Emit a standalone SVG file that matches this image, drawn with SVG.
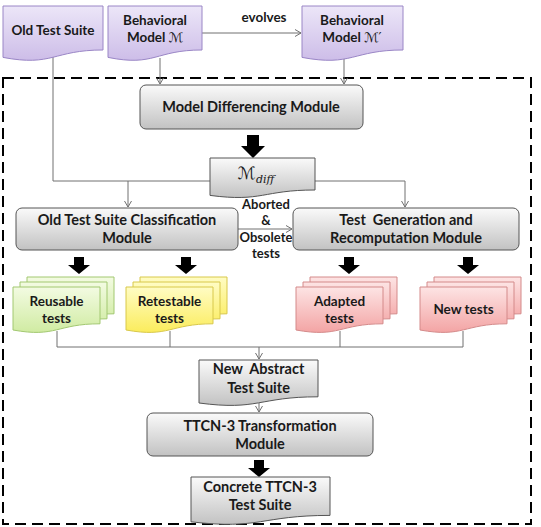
<svg xmlns="http://www.w3.org/2000/svg" width="541" height="527" viewBox="0 0 541 527">
<defs>
<linearGradient id="gPurple" x1="0" y1="0" x2="0" y2="1"><stop offset="0" stop-color="#ece6f8"/><stop offset="1" stop-color="#cdbde8"/></linearGradient>
<linearGradient id="gGray" x1="0" y1="0" x2="0" y2="1"><stop offset="0" stop-color="#fafafa"/><stop offset="1" stop-color="#c2c2c2"/></linearGradient>
<linearGradient id="gGreen" x1="0" y1="0" x2="0" y2="1"><stop offset="0" stop-color="#f3fbe2"/><stop offset="1" stop-color="#d0eba2"/></linearGradient>
<linearGradient id="gYellow" x1="0" y1="0" x2="0" y2="1"><stop offset="0" stop-color="#fffcc4"/><stop offset="1" stop-color="#fbec5c"/></linearGradient>
<linearGradient id="gPink" x1="0" y1="0" x2="0" y2="1"><stop offset="0" stop-color="#fde4e4"/><stop offset="1" stop-color="#f3a4a4"/></linearGradient>
<path id="stk" d="M0,0 H87 V36.8 C43.5,36.8 43.5,50.9 0,43 Z"/>
<marker id="arr" markerWidth="8" markerHeight="8" refX="6" refY="4" orient="auto" markerUnits="userSpaceOnUse">
<path d="M0,0.5 L6,4 L0,7.5" fill="none" stroke="#707070" stroke-width="1"/>
</marker>
</defs>
<style>
text{font-family:Lato,"Liberation Sans",sans-serif;font-weight:bold;fill:#1a1a1a;text-anchor:middle}
.t13{font-size:13.5px}
.t14{font-size:14.5px}
.purple{fill:url(#gPurple);stroke:#9a86c6;stroke-width:1}
.gray{fill:url(#gGray);stroke:#555;stroke-width:1}
.green{fill:url(#gGreen);stroke:#a2c870;stroke-width:1}
.yellow{fill:url(#gYellow);stroke:#d8c84a;stroke-width:1}
.pink{fill:url(#gPink);stroke:#d48a8a;stroke-width:1}
.conn{fill:none;stroke:#707070;stroke-width:1}
.big{fill:#000}
.math{font-family:"DejaVu Sans",serif;font-weight:normal;font-style:normal}
</style>

<rect x="3" y="78" width="528" height="446" fill="none" stroke="#000" stroke-width="2" stroke-dasharray="11,6"/>

<g id="connectors">
<path class="conn" d="M53,57 V181 H210"/>
<path class="conn" d="M128,181 V207" marker-end="url(#arr)"/>
<path class="conn" d="M315,181 H405 V207" marker-end="url(#arr)"/>
<path class="conn" d="M202,33 H301" marker-end="url(#arr)"/>
<path class="conn" d="M160,58 V84" marker-end="url(#arr)"/>
<path class="conn" d="M344,58 V84" marker-end="url(#arr)"/>
<path class="conn" d="M238,229 H292" marker-end="url(#arr)"/>
<path class="conn" d="M57,331 V347 H463 V331 M170,331 V347 M340,331 V347"/>
<path class="conn" d="M259,347 V359" marker-end="url(#arr)"/>
<path class="conn" d="M259,403 V412" marker-end="url(#arr)"/>
<path class="big" d="M247,135 H259 V146 H265 L253,158 L241,146 H247 Z"/>
<path class="big" d="M74,257 H84 V265 H90 L79,274 L68,265 H74 Z"/>
<path class="big" d="M181,257 H191 V265 H197 L186,274 L175,265 H181 Z"/>
<path class="big" d="M344,257 H354 V265 H360 L349,274 L338,265 H344 Z"/>
<path class="big" d="M463,257 H473 V265 H479 L468,274 L457,265 H463 Z"/>
<path class="big" d="M254,460 H264 V468 H270 L259,477 L248,468 H254 Z"/>
</g>

<g id="oldTestSuite">
<path class="purple" d="M3,6 H103 V50 C53,50 53,66.9 3,57.4 Z"/>
<text class="t13" x="53" y="35">Old Test Suite</text>
</g>
<g id="modelM">
<path class="purple" d="M108,6 H202 V50 C155,50 155,66.9 108,57.4 Z"/>
<text class="t13" x="155" y="25">Behavioral</text>
<text class="t13" x="155" y="42">Model  <tspan class="math">ℳ</tspan></text>
</g>
<text class="t13" x="264" y="22">evolves</text>
<g id="modelM2">
<path class="purple" d="M302,6 H403 V50 C352.5,50 352.5,66.9 302,57.4 Z"/>
<text class="t13" x="352" y="25">Behavioral</text>
<text class="t13" x="352" y="42">Model  <tspan class="math">ℳ′</tspan></text>
</g>

<g id="modelDiff">
<rect class="gray" x="140" y="85" width="223" height="44" rx="6"/>
<text class="t14" x="251" y="112">Model Differencing Module</text>
</g>

<g id="mdiff">
<path class="gray" d="M210,158 H315 V190 C262.5,190 262.5,202.3 210,195.4 Z"/>
<text x="256" y="179"><tspan class="math" font-size="17">ℳ</tspan><tspan font-family="'DejaVu Serif',serif" font-weight="normal" font-style="italic" font-size="11" dy="4">diff</tspan></text>
</g>

<g id="classification">
<rect class="gray" x="16" y="208" width="222" height="42" rx="6"/>
<text class="t14" x="127" y="225">Old Test Suite Classification</text>
<text class="t14" x="127" y="243">Module</text>
</g>

<g id="aborted">
<text x="266" y="209" font-size="13">Aborted</text>
<text x="266" y="225" font-size="13">&amp;</text>
<text x="266" y="242" font-size="13">Obsolete</text>
<text x="266" y="258" font-size="13">tests</text>
</g>

<g id="testGen">
<rect class="gray" x="293" y="208" width="226" height="42" rx="6"/>
<text class="t14" x="406" y="225" xml:space="preserve">Test  Generation and</text>
<text class="t14" x="406" y="243">Recomputation Module</text>
</g>

<g id="reusable">
<use href="#stk" x="27" y="277" class="green"/>
<use href="#stk" x="20" y="282" class="green"/>
<use href="#stk" x="13" y="287" class="green"/>
<text class="t13" x="56.5" y="306">Reusable</text>
<text class="t13" x="56.5" y="323">tests</text>
</g>
<g id="retestable">
<use href="#stk" x="140" y="277" class="yellow"/>
<use href="#stk" x="133" y="282" class="yellow"/>
<use href="#stk" x="126" y="287" class="yellow"/>
<text class="t13" x="169.5" y="306">Retestable</text>
<text class="t13" x="169.5" y="323">tests</text>
</g>
<g id="adapted">
<use href="#stk" x="310" y="277" class="pink"/>
<use href="#stk" x="303" y="282" class="pink"/>
<use href="#stk" x="296" y="287" class="pink"/>
<text class="t13" x="339.5" y="306">Adapted</text>
<text class="t13" x="339.5" y="323">tests</text>
</g>
<g id="newTests">
<use href="#stk" x="434" y="277" class="pink"/>
<use href="#stk" x="427" y="282" class="pink"/>
<use href="#stk" x="420" y="287" class="pink"/>
<text class="t13" x="463.5" y="314">New tests</text>
</g>

<g id="newAbstract">
<path class="gray" d="M199,360 H318 V396.8 C258.5,396.8 258.5,410.9 199,403 Z"/>
<text class="t14" x="258.5" y="374" xml:space="preserve">New  Abstract</text>
<text class="t14" x="258.5" y="393">Test Suite</text>
</g>

<g id="ttcnTransform">
<rect class="gray" x="147" y="413" width="226" height="43" rx="6"/>
<text class="t14" x="260" y="431">TTCN-3 Transformation</text>
<text class="t14" x="260" y="449">Module</text>
</g>

<g id="concrete">
<path class="gray" d="M191,477 H330 V515.4 C260.5,515.4 260.5,530 191,521.8 Z"/>
<text class="t14" x="260" y="492">Concrete TTCN-3</text>
<text class="t14" x="260" y="510">Test Suite</text>
</g>
</svg>
